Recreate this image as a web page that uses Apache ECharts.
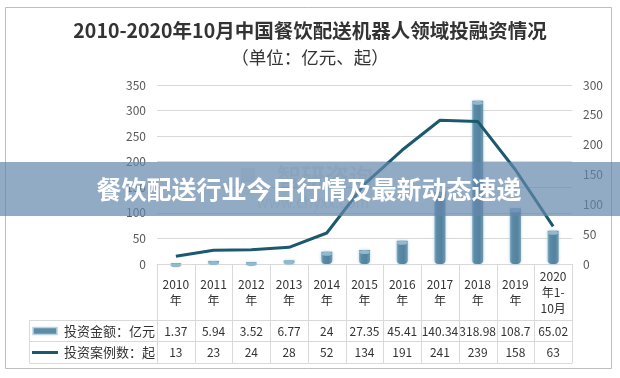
<!DOCTYPE html>
<html>
<head>
<meta charset="utf-8">
<style>
  html, body { margin: 0; padding: 0; background: #fff; }
  #chart { width: 620px; height: 378px; }
</style>
<script src="https://cdn.jsdelivr.net/npm/echarts@6/dist/echarts.min.js"></script>
</head>
<body>
<div id="chart"></div>
<script>
// ---- data ----
var categories = ['2010\n年', '2011\n年', '2012\n年', '2013\n年', '2014\n年', '2015\n年',
                  '2016\n年', '2017\n年', '2018\n年', '2019\n年', '2020\n年1-\n10月'];
var amountValues = [1.37, 5.94, 3.52, 6.77, 24, 27.35, 45.41, 140.34, 318.98, 108.7, 65.02];
var caseValues = [13, 23, 24, 28, 52, 134, 191, 241, 239, 158, 63];
var amountName = '投资金额：亿元';
var caseName = '投资案例数：起';
var leftTicks = { min: 0, max: 350, interval: 50 };
var rightTicks = { min: 0, max: 300, interval: 50 };
var titleText = '2010-2020年10月中国餐饮配送机器人领域投融资情况';
var subTitleText = '（单位：亿元、起）';
var bannerText = '餐饮配送行业今日行情及最新动态速递';

// ---- layout ----
var FONT = "'Microsoft YaHei', 'Noto Sans CJK SC', sans-serif";
var G = { left: 157, top: 85, width: 415, height: 179 };
var gridBottom = G.top + G.height;          // 264
var rowTop1 = 320, rowTop2 = 341, tableBottom = 363, legendLeft = 29;
var colW = G.width / categories.length;

var chart = echarts.init(document.getElementById('chart'), null, { renderer: 'canvas' });

var graphics = [];
// outer border
graphics.push({ type: 'rect', shape: { x: 5.5, y: 7.5, width: 606, height: 361 },
  style: { fill: 'none', stroke: '#bdbdbd', lineWidth: 1 }, z: 0, silent: true });
// titles
graphics.push({ type: 'text', x: 310, y: 31, style: { text: titleText, fontSize: 19.5, fontWeight: 'bold',
  fontFamily: FONT, fill: '#333', align: 'center', verticalAlign: 'middle' }, z: 5 });
graphics.push({ type: 'text', x: 310, y: 57, style: { text: subTitleText, fontSize: 17.5,
  fontFamily: FONT, fill: '#333', align: 'center', verticalAlign: 'middle' }, z: 5 });
// table lines
var tableLineStyle = { stroke: '#d9d9d9', lineWidth: 1 };
for (var k = 0; k <= categories.length; k++) {
  var x = Math.round(G.left + k * colW) + 0.5;
  graphics.push({ type: 'line', shape: { x1: x, y1: gridBottom, x2: x, y2: tableBottom }, style: tableLineStyle, z: 1, silent: true });
}
[rowTop1, rowTop2, tableBottom].forEach(function (y) {
  graphics.push({ type: 'line', shape: { x1: legendLeft + 0.5, y1: y + 0.5, x2: G.left + G.width + 0.5, y2: y + 0.5 }, style: tableLineStyle, z: 1, silent: true });
});
graphics.push({ type: 'line', shape: { x1: legendLeft + 0.5, y1: rowTop1, x2: legendLeft + 0.5, y2: tableBottom }, style: tableLineStyle, z: 1, silent: true });
// table legend keys
var rowMid1 = (rowTop1 + rowTop2) / 2 + 0.5, rowMid2 = (rowTop2 + tableBottom) / 2 + 0.5;
graphics.push({ type: 'rect', shape: { x: 33, y: rowMid1 - 3.5, width: 24, height: 7 },
  style: { fill: '#5e8ca6', stroke: '#b9d5e3', lineWidth: 1.5 }, z: 3 });
graphics.push({ type: 'text', x: 155, y: rowMid1, style: { text: amountName, fontSize: 13, fontFamily: FONT,
  fill: '#333', align: 'right', verticalAlign: 'middle' }, z: 3 });
graphics.push({ type: 'line', shape: { x1: 32, y1: rowMid2, x2: 58, y2: rowMid2 },
  style: { stroke: '#1b5a6e', lineWidth: 3 }, z: 3 });
graphics.push({ type: 'text', x: 155, y: rowMid2, style: { text: caseName, fontSize: 13, fontFamily: FONT,
  fill: '#333', align: 'right', verticalAlign: 'middle' }, z: 3 });
// watermark
graphics.push({ type: 'text', x: 325, y: 177, style: { text: '智研咨询', fontSize: 24, fontWeight: 'bold',
  fontFamily: FONT, fill: 'rgba(80,80,80,0.13)', align: 'center', verticalAlign: 'middle' }, z: 1, silent: true });
graphics.push({ type: 'rect', shape: { x: 241, y: 168, width: 14, height: 14 },
  style: { fill: 'rgba(80,80,80,0.10)' }, z: 1, silent: true });
graphics.push({ type: 'text', x: 313, y: 202, style: { text: 'www.chyxx.com', fontSize: 15,
  fontFamily: FONT, fill: 'rgba(80,80,80,0.14)', align: 'center', verticalAlign: 'middle' }, z: 1, silent: true });
// banner overlay
graphics.push({ type: 'rect', shape: { x: 0, y: 162, width: 620, height: 54 },
  style: { fill: 'rgba(100,135,172,0.70)' }, z: 100, silent: true });
graphics.push({ type: 'text', x: 309, y: 189, style: { text: bannerText, fontSize: 25, fontWeight: 'bold',
  fontFamily: FONT, fill: '#fff', align: 'center', verticalAlign: 'middle' }, z: 101, silent: true });

var valueAxisLabel = { color: '#595959', fontSize: 12, fontFamily: FONT };

var option = {
  animation: false,
  backgroundColor: '#fff',
  grid: { left: G.left, top: G.top, width: G.width, height: G.height, containLabel: false },
  xAxis: [
    {
      type: 'category', data: categories, position: 'bottom',
      axisLine: { show: true, lineStyle: { color: '#d9d9d9' } },
      axisTick: { show: false },
      axisLabel: { interval: 0, margin: 28, verticalAlign: 'middle', lineHeight: 16,
        color: '#333', fontSize: 12, fontFamily: FONT }
    },
    {
      type: 'category', data: categories, position: 'bottom',
      axisLine: { show: false }, axisTick: { show: false },
      axisLabel: { interval: 0, margin: rowTop1 - gridBottom + 11, verticalAlign: 'middle',
        color: '#333', fontSize: 12, fontFamily: FONT,
        formatter: function (v, i) { return String(amountValues[i]); } }
    },
    {
      type: 'category', data: categories, position: 'bottom',
      axisLine: { show: false }, axisTick: { show: false },
      axisLabel: { interval: 0, margin: rowTop2 - gridBottom + 11, verticalAlign: 'middle',
        color: '#333', fontSize: 12, fontFamily: FONT,
        formatter: function (v, i) { return String(caseValues[i]); } }
    }
  ],
  yAxis: [
    {
      type: 'value', min: leftTicks.min, max: leftTicks.max, interval: leftTicks.interval,
      axisLine: { show: false }, axisTick: { show: false },
      axisLabel: Object.assign({ margin: 11 }, valueAxisLabel),
      splitLine: { show: true, lineStyle: { color: '#d9d9d9' } }
    },
    {
      type: 'value', min: rightTicks.min, max: rightTicks.max, interval: rightTicks.interval,
      position: 'right',
      axisLine: { show: false }, axisTick: { show: false },
      axisLabel: Object.assign({ margin: 11 }, valueAxisLabel),
      splitLine: { show: false }
    }
  ],
  series: [
    {
      name: amountName, type: 'bar', data: amountValues, xAxisIndex: 0, yAxisIndex: 0,
      barWidth: 11, z: 2,
      itemStyle: {
        color: new echarts.graphic.LinearGradient(0, 0, 1, 0, [
          { offset: 0, color: '#86afc4' },
          { offset: 0.2, color: '#5b8ba6' },
          { offset: 0.65, color: '#52829d' },
          { offset: 1, color: '#7199b0' }
        ]),
        shadowColor: 'rgba(150,195,220,0.8)', shadowBlur: 3,
        borderRadius: [0, 0, 4, 4]
      }
    },
    {
      name: amountName + '-top', type: 'pictorialBar', data: amountValues, xAxisIndex: 0, yAxisIndex: 0,
      symbol: 'circle', symbolSize: [11, 4], symbolPosition: 'end', symbolOffset: [0, 0],
      z: 3, itemStyle: { color: '#93b9cd' }
    },
    {
      name: caseName, type: 'line', data: caseValues, xAxisIndex: 0, yAxisIndex: 1,
      symbol: 'none', z: 5,
      lineStyle: { color: '#1b5a6e', width: 3 },
      itemStyle: { color: '#1b5a6e' }
    }
  ],
  graphic: graphics
};
chart.setOption(option);
</script>
</body>
</html>
